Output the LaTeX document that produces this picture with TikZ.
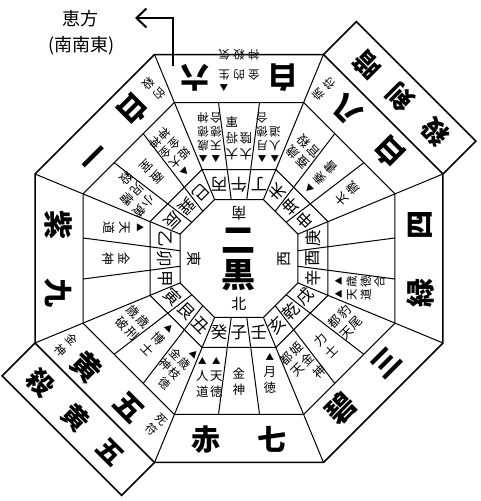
\documentclass[tikz,border=0pt]{standalone}
\usepackage{fontspec}
\setmainfont{Noto Sans CJK JP}
\usetikzlibrary{arrows.meta}
\tikzset{
  outer/.style={line width=1.5pt},
  inner/.style={line width=1.0pt},
  bigt/.style={font=\fontsize{29}{30}\selectfont\bfseries, inner sep=0pt},
  boxt/.style={font=\fontsize{26}{27}\selectfont\bfseries, inner sep=0pt},
  mtn/.style={font=\fontsize{16.5}{16.5}\selectfont, inner sep=0pt},
  dirt/.style={font=\fontsize{15}{15}\selectfont, inner sep=0pt},
  god/.style={font=\fontsize{12.5}{16}\selectfont, inner sep=0pt, align=center},
  godt/.style={font=\fontsize{11.5}{14}\selectfont, inner sep=0pt, align=center},
  smallt/.style={font=\fontsize{11.5}{15}\selectfont, inner sep=0pt, align=center},
  topt/.style={font=\fontsize{11.5}{20}\selectfont, inner sep=0pt},
  centt/.style={font=\fontsize{34}{35}\selectfont\bfseries, inner sep=0pt},
  titlet/.style={font=\fontsize{18}{20}\selectfont, inner sep=0pt},
}
\newcommand{\tri}{{\fontsize{8.5}{8.5}\selectfont ▲}}
\newcommand{\twocol}[1]{\begin{tabular}{@{}c@{\hspace{1.5pt}}c@{}}#1\end{tabular}}
\newcommand{\threecol}[1]{\begin{tabular}{@{}c@{\hspace{3.5pt}}c@{\hspace{3.5pt}}c@{}}#1\end{tabular}}
\begin{document}
\begin{tikzpicture}[x=1pt,y=1pt]
\useasboundingbox (-239,-242.5) rectangle (241,258.5);
% concentric octagons
\foreach \R in {63.86,96.33,168.85} {
  \draw[inner] (22.5:\R) -- (67.5:\R) -- (112.5:\R) -- (157.5:\R) -- (202.5:\R) -- (247.5:\R) -- (292.5:\R) -- (337.5:\R) -- cycle;
}
\draw[outer] (22.5:220.81) -- (67.5:220.81) -- (112.5:220.81) -- (157.5:220.81) -- (202.5:220.81) -- (247.5:220.81) -- (292.5:220.81) -- (337.5:220.81) -- cycle;
% sector boundaries
\foreach \t in {22.5,67.5,...,337.5} \draw[inner] (\t:63.86) -- (\t:220.81);
% subdivisions of the two inner rings
\foreach \t in {0,45,...,315} {
  \draw[inner] ({\t+7.5}:59.51) -- ({\t+7.5}:157.35);
  \draw[inner] ({\t-7.5}:59.51) -- ({\t-7.5}:157.35);
}
% centre
\node[centt] (c1) at (0,18) {二};
\node[centt] (c2) at (0,-17) {黒};
% title and arrow
\node[titlet] (t1) at (-158,240) {恵方};
\node[titlet] (t2) at (-157,213) {(南南東)};
\coordinate (a0) at (-66,192.5);
\coordinate (a1) at (-104,240.5);
\draw[line width=2pt, -{Straight Barb[length=10pt,width=19pt]}] (a0) |- (a1);

% ---------- N ----------
\begin{scope}[rotate=0,transform shape]
 \node[dirt] (dN) at (0,-45) {北};
 \node[mtn] (mN1) at (-19.8,-74) {癸};
 \node[mtn] (mN2) at (0,-74) {子};
 \node[mtn] (mN3) at (19.8,-74) {壬};
 \node[god,anchor=north] (gN1) at (-29.5,-95) {\twocol{\tri & \tri\\ 人 & 天\\ 道 & 徳}};
 \node[god] (gN3) at (0,-123) {金\\神};
 \node[god,anchor=north] (gN4) at (31,-95) {\tri\\月\\徳};
 \node[bigt] (bN1) at (-33,-181) {赤};
 \node[bigt] (bN2) at (33,-181) {七};
\end{scope}
% ---------- NE ----------
\begin{scope}[rotate=-45,transform shape]
 \draw[outer] (-84.5,-204) -- (-84.5,-250.5) -- (84.5,-250.5) -- (84.5,-204);
 \node[mtn] (mNE1) at (-19.8,-74) {寅};
 \node[mtn] (mNE2) at (0,-74) {艮};
 \node[mtn] (mNE3) at (19.8,-74) {丑};
 \node[god] (gNE1) at (-30,-122) {\twocol{歳 & 歳\\ 破 & 刑}};
 \node[god,anchor=north] (gNE3) at (0,-95) {\tri\\博\\士};
 \node[godt,anchor=north] (gNE4) at (29.5,-93) {\twocol{ & \tri\\ 金 & 歳\\ 神 & 枝\\ & 徳}};
 \node[bigt] (bNE1) at (-31,-184) {黄};
 \node[bigt] (bNE2) at (28,-183) {五};
 \node[smallt] (sNE1) at (-61,-183) {金\\神};
 \node[smallt] (sNE2) at (59,-176) {死\\符};
 \node[boxt] (xNE1) at (-52,-228) {殺};
 \node[boxt] (xNE2) at (-3,-228) {黄};
 \node[boxt] (xNE3) at (46,-228) {五};
\end{scope}
% ---------- E ----------
\begin{scope}[rotate=270,transform shape]
 \node[dirt] (dE) at (0,-45) {東};
 \node[mtn] (mE1) at (-19.8,-74) {乙};
 \node[mtn] (mE2) at (0,-74) {卯};
 \node[mtn] (mE3) at (19.8,-74) {甲};
 \node[god,anchor=north] (gE1) at (-31,-95) {\tri\\天\\道};
 \node[god] (gE2) at (0,-123) {金\\神};
 \node[bigt] (bE1) at (-34,-181) {紫};
 \node[bigt] (bE2) at (34,-181) {九};
\end{scope}
% ---------- SE ----------
\begin{scope}[rotate=225,transform shape]
 \node[mtn] (mSE1) at (-19.8,-74) {巳};
 \node[mtn] (mSE2) at (0,-74) {巽};
 \node[mtn] (mSE3) at (19.8,-74) {辰};
 \node[godt,anchor=north] (gSE1) at (-29.5,-93) {\twocol{ & \tri\\ 姫 & 大\\ 金 & 金\\ 神 & 神}};
 \node[god] (gSE3) at (0,-123) {蚕\\室};
 \node[god] (gSE4) at (30,-122) {\twocol{小 & 黄\\ 児 & 幡\\ 殺 & }};
 \node[bigt] (bSE1) at (-30,-180) {白};
 \node[bigt] (bSE2) at (31,-180) {一};
 \node[smallt] (sSE1) at (-60,-180) {的\\殺};
\end{scope}
% ---------- S ----------
\begin{scope}[rotate=180,transform shape]
 \node[dirt] (dS) at (0,-45) {南};
 \node[mtn] (mS1) at (-19.8,-74) {丁};
 \node[mtn] (mS2) at (0,-74) {午};
 \node[mtn] (mS3) at (19.8,-74) {丙};
 \node[godt,anchor=north] (gS1) at (-29.5,-93) {\twocol{\tri & \tri\\ 人 & 月\\ 道 & 徳\\ & 合}};
 \node[god] (gS3) at (0,-122) {\twocol{大 & 大\\ 陰 & 将\\ & 軍}};
 \node[godt,anchor=north] (gS5) at (29.5,-93) {\twocol{\tri & \tri\\ 天 & 歳\\ 徳 & 徳\\ 合 & 神}};
 \node[bigt] (bS1) at (-44,-181) {白};
 \node[bigt] (bS2) at (44,-181) {六};
 \node[topt,anchor=north] (sS1) at (0,-160) {\threecol{ & & \tri\\[-6pt] 金 & 的 & 生\\ 神 & 殺 & 気}};
\end{scope}
% ---------- SW ----------
\begin{scope}[rotate=135,transform shape]
 \draw[outer] (-84.5,-204) -- (-84.5,-250.5) -- (84.5,-250.5) -- (84.5,-204);
 \node[mtn] (mSW1) at (-19.8,-74) {申};
 \node[mtn] (mSW2) at (0,-74) {坤};
 \node[mtn] (mSW3) at (19.8,-74) {未};
 \node[god] (gSW1) at (-31,-122) {太\\歳};
 \node[god,anchor=north] (gSW2) at (0,-95) {\tri\\奏\\書};
 \node[god] (gSW3) at (30,-122) {\twocol{蚕 & 歳\\ 官 & 殺}};
 \node[bigt] (bSW1) at (-31,-182) {白};
 \node[bigt] (bSW2) at (29,-182) {八};
 \node[smallt] (sSW1) at (60,-180) {病\\符};
 \node[boxt] (xSW1) at (-50,-228) {殺};
 \node[boxt] (xSW2) at (0,-228) {剣};
 \node[boxt] (xSW3) at (46,-228) {暗};
\end{scope}
% ---------- W ----------
\begin{scope}[rotate=90,transform shape]
 \node[dirt] (dW) at (0,-45) {西};
 \node[mtn] (mW1) at (-19.8,-74) {辛};
 \node[mtn] (mW2) at (0,-74) {酉};
 \node[mtn] (mW3) at (19.8,-74) {庚};
 \node[godt,anchor=north] (gW1) at (-29.5,-93) {\twocol{\tri & \tri\\ 天 & 歳\\ 道 & 徳\\ & 合}};
 \node[bigt] (bW1) at (-34,-181) {緑};
 \node[bigt] (bW2) at (34,-181) {四};
\end{scope}
% ---------- NW ----------
\begin{scope}[rotate=45,transform shape]
 \node[mtn] (mNW1) at (-19.8,-74) {亥};
 \node[mtn] (mNW2) at (0,-74) {乾};
 \node[mtn] (mNW3) at (19.8,-74) {戌};
 \node[god] (gNW1) at (-30,-122) {\twocol{都 & 姫\\ 天 & 金\\ & 神}};
 \node[god] (gNW3) at (0,-123) {力\\士};
 \node[god] (gNW4) at (30,-122) {\twocol{都 & 豹\\ 天 & 尾}};
 \node[bigt] (bNW1) at (-34,-178) {碧};
 \node[bigt] (bNW2) at (31,-178) {三};
\end{scope}
\end{tikzpicture}
\end{document}
